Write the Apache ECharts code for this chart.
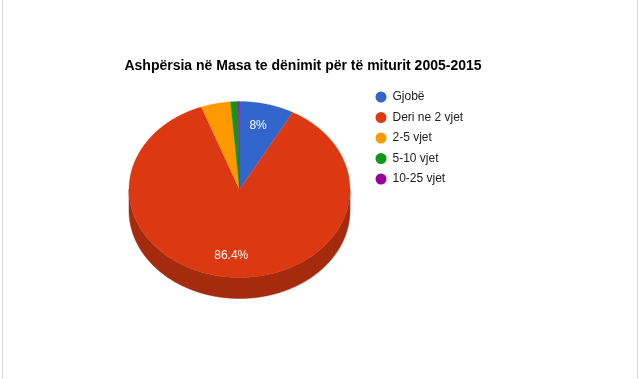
<!DOCTYPE html>
<html>
<head>
<meta charset="utf-8">
<script src="https://cdn.jsdelivr.net/npm/echarts@6/dist/echarts.min.js"></script>
<style>
html,body{margin:0;padding:0;background:#fff;}
#wrap{position:relative;width:640px;height:379px;overflow:hidden;}
#chart{position:absolute;left:0;top:0;width:640px;height:379px;}
.edge{position:absolute;top:0;width:1px;height:379px;background:#d8d8d8;}
</style>
</head>
<body>
<div id="wrap">
<div id="chart"></div>
<div class="edge" style="left:2px"></div>
<div class="edge" style="left:637px"></div>
</div>
<script>
const categories = ['Gjobë', 'Deri ne 2 vjet', '2-5 vjet', '5-10 vjet', '10-25 vjet'];
const values = [8.0, 86.4, 4.3, 1.1, 0.2];
const colors = ['#3366cc', '#dc3912', '#ff9900', '#109618', '#990099'];
const sideColors = ['#264c99', '#a52b0e', '#bf7300', '#0c7012', '#730073'];
const titleText = 'Ashpërsia në Masa te dënimit për të miturit 2005-2015';

const total = values.reduce((a, b) => a + b, 0);
const CX = 239.5, CY = 189.5, RX = 110.5, RY = 88, DEPTH = 21;

function pt(theta, dy) {
  return [CX + RX * Math.sin(theta), CY - RY * Math.cos(theta) + (dy || 0)];
}
function arc(a0, a1, dy) {
  const pts = [];
  const n = Math.max(2, Math.ceil((a1 - a0) / (Math.PI / 360)));
  for (let i = 0; i <= n; i++) pts.push(pt(a0 + (a1 - a0) * i / n, dy));
  return pts;
}

function renderItem(params, api) {
  const idx = params.dataIndex;
  let before = 0;
  for (let i = 0; i < idx; i++) before += values[i];
  const v = api.value(0);
  const a0 = before / total * 2 * Math.PI;
  const a1 = (before + v) / total * 2 * Math.PI;
  const children = [];
  const s = Math.max(a0, Math.PI / 2), e = Math.min(a1, 3 * Math.PI / 2);
  if (e > s) {
    const top = arc(s, e, 0);
    const bot = arc(s, e, DEPTH).reverse();
    children.push({
      type: 'polygon', z2: 1,
      shape: { points: top.concat(bot) },
      style: { fill: sideColors[idx], stroke: sideColors[idx], lineWidth: 0.5 }
    });
  }
  children.push({
    type: 'polygon', z2: 2,
    shape: { points: [[CX, CY]].concat(arc(a0, a1, 0)) },
    style: { fill: colors[idx], stroke: colors[idx], lineWidth: 0.3 }
  });
  if (v / total >= 0.05) {
    const mid = (a0 + a1) / 2;
    const lp = [CX + RX * 0.75 * Math.sin(mid), CY - RY * 0.75 * Math.cos(mid)];
    const pct = Math.round(v / total * 1000) / 10;
    children.push({
      type: 'text', z2: 3,
      style: {
        text: pct + '%', x: lp[0] - 2, y: lp[1],
        fill: '#ffffff', font: '12px Arial, "Liberation Sans", sans-serif',
        align: 'center', verticalAlign: 'middle'
      }
    });
  }
  return { type: 'group', children: children };
}

const chart = echarts.init(document.getElementById('chart'), null, { renderer: 'canvas' });
chart.setOption({
  animation: false,
  backgroundColor: '#ffffff',
  title: {
    text: titleText,
    left: 298, top: 54, textAlign: 'center',
    textStyle: { fontFamily: 'Arial, "Liberation Sans", sans-serif', fontSize: 14, fontWeight: 'bold', color: '#000000' }
  },
  legend: {
    orient: 'vertical', left: 370.5, top: 86,
    icon: 'circle', itemWidth: 11, itemHeight: 11, itemGap: 8.5,
    textStyle: { fontFamily: 'Arial, "Liberation Sans", sans-serif', fontSize: 12, color: '#222222', padding: [0, 0, 0, 1] },
    data: categories
  },
  series: [
    {
      type: 'custom', name: 'slices', coordinateSystem: 'none',
      renderItem: renderItem,
      data: values.map(v => [v])
    },
    {
      type: 'pie', name: 'legendSource', radius: [0, 0], center: [-100, -100],
      silent: true, label: { show: false }, labelLine: { show: false },
      data: categories.map((c, i) => ({ name: c, value: values[i], itemStyle: { color: colors[i] } }))
    }
  ]
});
</script>
</body>
</html>
